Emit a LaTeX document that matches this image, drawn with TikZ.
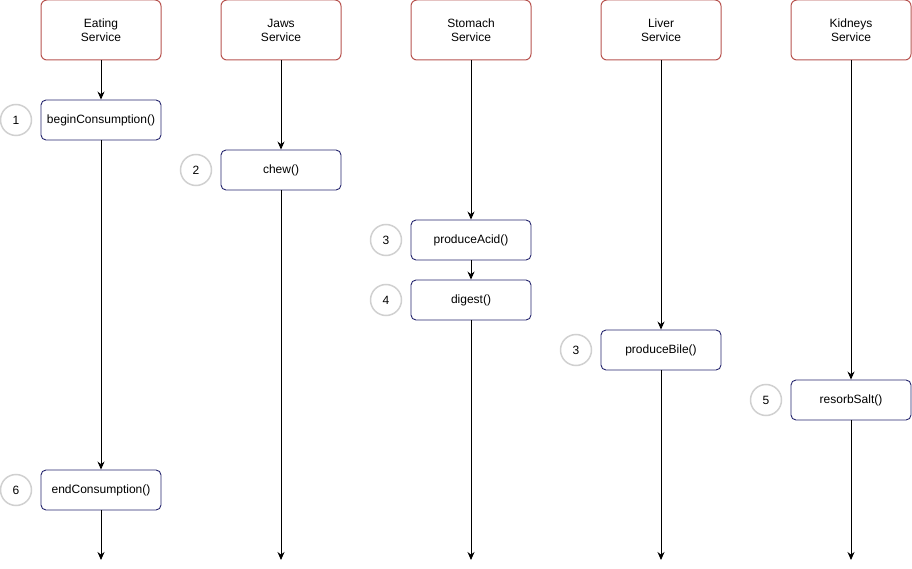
\documentclass[tikz,border=0pt]{standalone}
\usepackage{fontspec}
\setmainfont{Liberation Sans}
\usetikzlibrary{arrows.meta}
\definecolor{svcred}{HTML}{B85450}
\definecolor{mnavy}{HTML}{26266E}
\definecolor{circgrey}{HTML}{D0D0D0}
\tikzset{
  svc/.style={draw=svcred, line width=1pt, rounded corners=6pt, minimum width=120pt, minimum height=60pt, align=center, font=\fontsize{12}{14}\selectfont, inner sep=0pt, fill=white},
  meth/.style={draw=mnavy, line width=0.9pt, rounded corners=5pt, minimum width=120pt, minimum height=40pt, align=center, font=\fontsize{12}{14}\selectfont, inner sep=0pt, fill=white},
  num/.style={draw=circgrey, line width=1.5pt, circle, minimum size=31pt, inner sep=0pt, font=\fontsize{12}{14}\selectfont},
  flow/.style={draw=black, line width=0.9pt, -{Stealth[length=8pt,width=7pt]}},
}
\begin{document}
\begin{tikzpicture}[x=1pt,y=-1pt]
\useasboundingbox (0,0) rectangle (912,569);
% services
\node[svc] (eat) at (101,30) {Eating\\Service};
\node[svc] (jaw) at (281,30) {Jaws\\Service};
\node[svc] (sto) at (471,30) {Stomach\\Service};
\node[svc] (liv) at (661,30) {Liver\\Service};
\node[svc] (kid) at (851,30) {Kidneys\\Service};
% methods
\node[meth] (begin) at (101,120) {beginConsumption()};
\node[meth] (chew) at (281,170) {chew()};
\node[meth] (acid) at (471,240) {produceAcid()};
\node[meth] (dig) at (471,300) {digest()};
\node[meth] (bile) at (661,350) {produceBile()};
\node[meth] (salt) at (851,400) {resorbSalt()};
\node[meth] (endc) at (101,490) {endConsumption()};
% numbers
\node[num] (n1) at (16,120) {1};
\node[num] (n2) at (196,170) {2};
\node[num] (n3) at (386,240) {3};
\node[num] (n4) at (386,300) {4};
\node[num] (n3b) at (576,350) {3};
\node[num] (n5) at (766,400) {5};
\node[num] (n6) at (16,490) {6};
% bottom ends
\coordinate (e1) at (101,560);
\coordinate (e2) at (281,560);
\coordinate (e3) at (471,560);
\coordinate (e4) at (661,560);
\coordinate (e5) at (851,560);
% flows
\draw[flow] (eat) -- (begin);
\draw[flow] (begin) -- (endc);
\draw[flow] (endc) -- (e1);
\draw[flow] (jaw) -- (chew);
\draw[flow] (chew) -- (e2);
\draw[flow] (sto) -- (acid);
\draw[flow] (acid) -- (dig);
\draw[flow] (dig) -- (e3);
\draw[flow] (liv) -- (bile);
\draw[flow] (bile) -- (e4);
\draw[flow] (kid) -- (salt);
\draw[flow] (salt) -- (e5);
\end{tikzpicture}
\end{document}
